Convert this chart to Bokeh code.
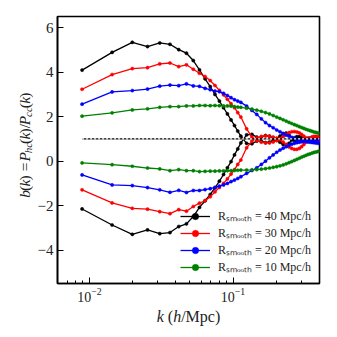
import math
from bokeh.plotting import figure
from bokeh.models import FixedTicker, Legend, LegendItem, Range1d
from bokeh.layouts import column, row
from bokeh.core.properties import value
from bokeh.embed import file_html
from bokeh.resources import INLINE

# ---------------- data ----------------
k = [0.0089, 0.0144, 0.0199, 0.0254, 0.0309, 0.0364, 0.0419, 0.0474, 0.0529, 0.0584,
     0.0639, 0.0694, 0.0749, 0.0804, 0.0859, 0.0914, 0.0969, 0.1024, 0.1079, 0.1134,
     0.1244, 0.1354, 0.1464, 0.1574, 0.1684, 0.1794, 0.1904, 0.2014, 0.2124, 0.2234,
     0.2344, 0.2454, 0.2564, 0.2674, 0.2784, 0.2894, 0.3004, 0.3114, 0.3224, 0.3334,
     0.3444, 0.3554, 0.3664, 0.3774, 0.3884, 0.3994]

b40_hi = [4.09, 4.89, 5.34, 5.15, 5.31, 5.25, 5.01, 4.85, 4.52, 4.10,
          3.70, 3.35, 3.00, 2.70, 2.40, 2.12, 1.85, 1.60, 1.35, 1.12,
          0.80, 0.78, 0.90, 1.08, 1.15, 1.12, 1.05, 0.97, 0.85, 0.75,
          0.72, 0.80, 0.95, 1.05, 1.10, 1.10, 1.06, 1.01, 0.97, 0.95,
          0.95, 0.97, 1.00, 1.02, 1.03, 1.03]
b40_lo = [-2.15, -2.87, -3.29, -3.09, -3.26, -3.21, -2.94, -2.82, -2.49, -2.08,
          -1.78, -1.50, -1.20, -0.90, -0.60, -0.30, -0.02, 0.28, 0.55, 0.82,
          1.18, 1.20, 1.08, 0.90, 0.83, 0.86, 0.93, 1.01, 1.13, 1.23,
          1.26, 1.18, 1.03, 0.93, 0.88, 0.88, 0.92, 0.97, 1.01, 1.03,
          1.03, 1.01, 0.98, 0.96, 0.95, 0.95]
b30_hi = [3.23, 3.89, 4.16, 4.20, 4.37, 4.41, 4.25, 4.33, 4.13, 3.95,
          3.80, 3.62, 3.40, 3.18, 2.98, 2.78, 2.58, 2.40, 2.18, 1.98,
          1.45, 1.08, 0.92, 0.85, 0.82, 0.82, 0.86, 0.92, 1.00, 1.10,
          1.20, 1.28, 1.32, 1.33, 1.31, 1.27, 1.20, 1.12, 1.04, 0.97,
          0.92, 0.89, 0.88, 0.89, 0.90, 0.92]
b30_lo = [-1.29, -1.88, -2.12, -2.16, -2.27, -2.36, -2.18, -2.25, -2.04, -1.89,
          -1.78, -1.60, -1.38, -1.18, -1.00, -0.80, -0.58, -0.38, -0.15, 0.05,
          0.60, 0.90, 1.05, 1.11, 1.13, 1.12, 1.08, 1.03, 0.96, 0.86,
          0.75, 0.64, 0.57, 0.53, 0.53, 0.57, 0.65, 0.75, 0.86, 0.96,
          1.04, 1.09, 1.11, 1.11, 1.10, 1.08]
b20_hi = [2.56, 3.11, 3.17, 3.24, 3.37, 3.42, 3.39, 3.47, 3.38, 3.36,
          3.27, 3.21, 3.15, 3.12, 3.05, 2.95, 2.85, 2.76, 2.70, 2.64,
          2.47, 2.28, 2.10, 1.90, 1.73, 1.60, 1.50, 1.40, 1.32, 1.24,
          1.17, 1.12, 1.07, 1.02, 0.98, 0.95, 0.92, 0.90, 0.88, 0.86,
          0.85, 0.84, 0.83, 0.82, 0.81, 0.80]
b20_lo = [-0.62, -1.07, -1.10, -1.19, -1.29, -1.40, -1.31, -1.41, -1.32, -1.32,
          -1.28, -1.24, -1.18, -1.12, -1.07, -1.00, -0.92, -0.85, -0.78, -0.70,
          -0.55, -0.42, -0.30, -0.15, 0.00, 0.15, 0.28, 0.40, 0.50, 0.58,
          0.65, 0.71, 0.76, 0.80, 0.83, 0.85, 0.87, 0.89, 0.91, 0.92,
          0.93, 0.94, 0.95, 0.95, 0.96, 0.96]
b10_hi = [2.02, 2.17, 2.30, 2.35, 2.42, 2.45, 2.45, 2.48, 2.48, 2.50,
          2.50, 2.49, 2.50, 2.49, 2.48, 2.48, 2.47, 2.45, 2.43, 2.42,
          2.38, 2.34, 2.29, 2.24, 2.18, 2.12, 2.05, 1.98, 1.92, 1.86,
          1.80, 1.74, 1.69, 1.64, 1.60, 1.55, 1.51, 1.47, 1.43, 1.40,
          1.37, 1.34, 1.31, 1.29, 1.27, 1.25]
b10_lo = [-0.08, -0.16, -0.23, -0.31, -0.35, -0.43, -0.38, -0.43, -0.43, -0.47,
          -0.46, -0.45, -0.45, -0.44, -0.44, -0.43, -0.43, -0.42, -0.41, -0.40,
          -0.40, -0.39, -0.38, -0.36, -0.34, -0.31, -0.28, -0.25, -0.21, -0.17,
          -0.12, -0.07, -0.02, 0.03, 0.08, 0.13, 0.18, 0.22, 0.26, 0.30,
          0.33, 0.36, 0.39, 0.41, 0.43, 0.45]

unity_k = [0.0089, 0.3994]
unity_b = [1.0, 1.0]

series = [("40", "black", b40_hi, b40_lo),
          ("30", "#ff0000", b30_hi, b30_lo),
          ("20", "#0000ff", b20_hi, b20_lo),
          ("10", "#008000", b10_hi, b10_lo)]

y_ticks = [-4, -2, 0, 2, 4, 6]
x_major = [0.01, 0.1]
x_minor = [0.006, 0.007, 0.008, 0.009, 0.02, 0.03, 0.04, 0.05, 0.06, 0.07,
           0.08, 0.09, 0.2, 0.3, 0.4]

FONT = "Liberation Serif"
TXT = "#222222"

# ---------------- main figure ----------------
LEFT_W = 33      # width of the strip holding the y label
MAIN_L = 24      # main figure left border (tick labels)
MAIN_T = 16
MAIN_B = 22
MAIN_R = 10
FW, FH = 262, 267
MAIN_H = MAIN_T + FH + MAIN_B

p = figure(x_axis_type="log", x_range=(0.006, 0.4), y_range=(-5.5, 6.5),
           frame_width=FW, frame_height=FH,
           min_border_left=MAIN_L, min_border_top=MAIN_T, min_border_right=MAIN_R,
           min_border_bottom=MAIN_B,
           output_backend="svg", toolbar_location=None)
p.grid.visible = False
p.outline_line_color = "black"
p.outline_line_width = 1.6

p.xaxis.ticker = FixedTicker(ticks=x_major, minor_ticks=x_minor)
p.yaxis.ticker = FixedTicker(ticks=y_ticks, minor_ticks=[])
p.yaxis.major_label_overrides = {-4: "\u22124", -2: "\u22122"}
for ax in (p.xaxis[0], p.yaxis[0]):
    ax.axis_line_color = "black"
    ax.axis_line_width = 1.6
    ax.major_tick_in = 6
    ax.major_tick_out = 0
    ax.minor_tick_in = 3
    ax.minor_tick_out = 0
    ax.major_tick_line_color = "black"
    ax.minor_tick_line_color = "black"
    ax.major_label_text_font = FONT
    ax.major_label_text_color = TXT
    ax.major_label_standoff = 4
p.yaxis.major_label_text_font_size = "15px"
p.xaxis.major_label_text_font_size = "14px"

items = []
for name, col, hi, lo in series:
    r1 = p.line(k, hi, line_color=col, line_width=1.3)
    r2 = p.scatter(k, hi, marker="circle", size=3.2, fill_color=col,
                   line_color=col, line_width=0.5)
    p.line(k, lo, line_color=col, line_width=1.3)
    p.scatter(k, lo, marker="circle", size=3.2, fill_color=col,
              line_color=col, line_width=0.5)
    items.append(LegendItem(label="R\u209b\u2098\u2092\u2092\u209c\u2095 = %s Mpc/h" % name,
                            renderers=[r1, r2]))

# mean line: black/white dotted on top
p.line(unity_k, unity_b, line_color="black", line_width=1.2)
p.line(unity_k, unity_b, line_color="white", line_width=1.2, line_dash="2 2")

leg = Legend(items=items, location=(123, 8), padding=0, margin=0,
             border_line_color=None, background_fill_alpha=0,
             glyph_width=30, glyph_height=16, label_height=16, spacing=0,
             label_standoff=8, label_text_font=FONT,
             label_text_font_size="12px", label_text_color=TXT)
p.add_layout(leg)

# ---------------- label strips (pixel coordinates, y upward) ----------------
RM = {'(': .333, ')': .333, ' ': .25, '=': .564, '/': .278, 'M': .889, 'p': .5, 'c': .444}
IT = {'b': .5, 'k': .444, 'P': .611, 'h': .5, 'c': .444, 'R': .611, ' ': .25}


def width(text, tab, fs):
    return sum(tab.get(c, .5) for c in text) * fs


def strip(w, h):
    f = figure(width=w, height=h, x_range=Range1d(0, w), y_range=Range1d(0, h),
               min_border=0, x_axis_location=None, y_axis_location=None,
               output_backend="svg", toolbar_location=None)
    f.grid.visible = False
    f.outline_line_color = None
    return f


def compose(f, pieces, x0, y0, vertical, size, sub_size, sub_shift, baseline):
    pos = 0.0
    for text, italic, sub in pieces:
        tab = IT if italic else RM
        fs = sub_size if sub else size
        lead = len(text) - len(text.lstrip(' '))
        start = pos + lead * .25 * fs
        off = sub_shift if sub else 0
        if vertical:
            x, y, ang = x0 + off, y0 + start, math.pi / 2
        else:
            x, y, ang = x0 + start, y0 - off, 0
        f.text(x=[x], y=[y], text=[text.strip()], angle=ang,
               text_font=value(FONT),
               text_font_style="italic" if italic else "normal",
               text_font_size="%.1fpx" % fs, text_color=TXT,
               text_baseline=baseline, text_align="left")
        pos += width(text, tab, fs)
    return pos


yl = strip(LEFT_W, MAIN_H)
ylab = [("b", True, False), ("(", False, False), ("k", True, False),
        (") = ", False, False), ("P", True, False), ("hc", True, True),
        ("(", False, False), ("k", True, False), (")/", False, False),
        ("P", True, False), ("cc", True, True), ("(", False, False),
        ("k", True, False), (")", False, False)]
# centre line at page x ~24.5, text starts at page y ~207 (strip y measured upward)
compose(yl, ylab, 24.0, MAIN_H - 207, True, 15.5, 11, 3.0, "middle")

TOT_W = LEFT_W + MAIN_L + FW + MAIN_R
XL_H = 28
xl = strip(TOT_W, XL_H)
xlab = [("k", True, False), (" (", False, False), ("h", True, False),
        ("/Mpc)", False, False)]
xs = 16
tot = sum(width(t, IT if it else RM, xs) for t, it, s in xlab)
compose(xl, xlab, LEFT_W + MAIN_L + FW / 2 - tot / 2, XL_H - (316 - MAIN_H),
        False, xs, xs, 0, "alphabetic")

layout = column(row(yl, p, spacing=0), xl, spacing=0)
open("out.html", "w").write(file_html(layout, INLINE))
